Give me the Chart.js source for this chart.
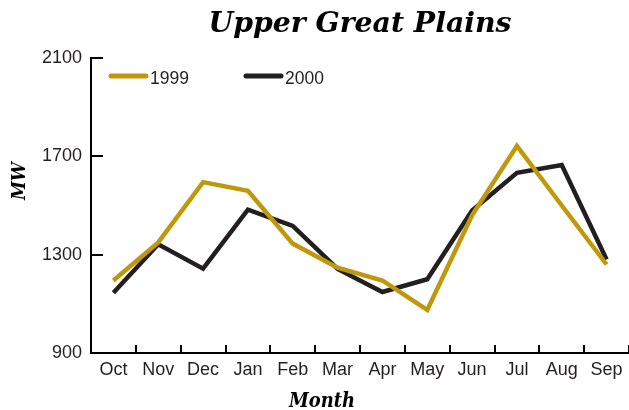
<!DOCTYPE html>
<html><head><meta charset="utf-8">
<script src="https://cdn.jsdelivr.net/npm/chart.js@4/dist/chart.umd.min.js"></script>
<style>html,body{margin:0;padding:0;background:#fff}#wrap{width:629px;height:410px;position:relative}</style>
</head><body><div id="wrap"><canvas id="c" width="629" height="410"></canvas></div>
<script>
const months = ['Oct','Nov','Dec','Jan','Feb','Mar','Apr','May','Jun','Jul','Aug','Sep'];
const series1999 = [1195,1350,1595,1560,1345,1247,1195,1075,1460,1742,1500,1260];
const series2000 = [1145,1342,1243,1483,1417,1242,1148,1200,1480,1633,1665,1280];
const yTicks = [900,1300,1700,2100];
const seriesNames = ['1999','2000'];
const chartTitle = 'Upper Great Plains';
const xTitle = 'Month';
const yTitle = 'MW';

const GOLD = '#c0980c';
const DARK = '#231f20';
const SANS = '"Liberation Sans", Arial, Helvetica, sans-serif';
const SERIF = '"DejaVu Serif", "Liberation Serif", serif';

// draw text centered at (cx, baseline), with given font size and fitted width
function fitText(ctx, text, cx, by, size, width) {
  ctx.save();
  ctx.font = 'italic bold ' + size + 'px ' + SERIF;
  const w = ctx.measureText(text).width;
  ctx.translate(cx, by);
  ctx.scale(width / w, 1);
  ctx.textAlign = 'center';
  ctx.textBaseline = 'alphabetic';
  ctx.fillText(text, 0, 0);
  ctx.restore();
}

const decor = {
  id: 'decor',
  afterDraw(chart) {
    const ctx = chart.ctx;
    const area = chart.chartArea;
    const xs = chart.scales.x, ys = chart.scales.y;
    ctx.save();
    ctx.strokeStyle = '#000';
    ctx.lineWidth = 2;
    yTicks.forEach(v => {
      const y = Math.round(ys.getPixelForValue(v));
      ctx.beginPath();
      ctx.moveTo(area.left, y);
      ctx.lineTo(area.left + 12, y);
      ctx.stroke();
    });
    for (let i = 1; i <= months.length; i++) {
      let x;
      if (i < months.length) x = (xs.getPixelForValue(i - 1) + xs.getPixelForValue(i)) / 2;
      else x = xs.getPixelForValue(i - 1) + (xs.getPixelForValue(1) - xs.getPixelForValue(0)) / 2;
      x = Math.round(x);
      ctx.beginPath();
      ctx.moveTo(x, area.bottom);
      ctx.lineTo(x, area.bottom - 8);
      ctx.stroke();
    }
    ctx.fillStyle = '#000';
    fitText(ctx, chartTitle, (area.left + area.right) / 2, 31.5, 27.5, 303);
    fitText(ctx, xTitle, 322, 407, 19.5, 66);
    ctx.save();
    ctx.translate(25, 181);
    ctx.rotate(-Math.PI / 2);
    fitText(ctx, yTitle, 0, 0, 19, 38);
    ctx.restore();
    const legendX = [109, 244];
    chart.data.datasets.forEach((ds, i) => {
      ctx.strokeStyle = ds.borderColor;
      ctx.lineWidth = 5;
      ctx.lineCap = 'round';
      ctx.beginPath();
      ctx.moveTo(legendX[i] + 2, 76);
      ctx.lineTo(legendX[i] + 37, 76);
      ctx.stroke();
      ctx.fillStyle = DARK;
      ctx.font = '17.5px ' + SANS;
      ctx.textAlign = 'left';
      ctx.textBaseline = 'alphabetic';
      ctx.fillText(ds.label, legendX[i] + 41, 84);
    });
    ctx.restore();
  }
};

new Chart(document.getElementById('c'), {
  type: 'line',
  data: {
    labels: months,
    datasets: [
      { label: seriesNames[0], data: series1999, borderColor: GOLD, backgroundColor: GOLD },
      { label: seriesNames[1], data: series2000, borderColor: DARK, backgroundColor: DARK }
    ]
  },
  options: {
    responsive: false,
    animation: false,
    devicePixelRatio: 1,
    layout: { padding: { top: 58, left: 0, right: 0, bottom: 0 } },
    elements: {
      line: { borderWidth: 4.5, tension: 0, borderJoinStyle: 'miter', borderCapStyle: 'butt' },
      point: { radius: 0, hoverRadius: 0 }
    },
    plugins: { legend: { display: false }, title: { display: false }, tooltip: { enabled: false } },
    scales: {
      x: {
        type: 'category',
        offset: true,
        grid: { display: false, drawTicks: false },
        border: { display: true, color: '#000', width: 2 },
        ticks: { color: DARK, font: { family: SANS, size: 18 }, padding: 6, maxRotation: 0, autoSkip: false },
        afterFit(s) { s.height = 57; }
      },
      y: {
        min: 900, max: 2100,
        grid: { display: false, drawTicks: false },
        border: { display: true, color: '#000', width: 2 },
        afterBuildTicks(s) { s.ticks = yTicks.map(v => ({ value: v })); },
        ticks: { color: DARK, font: { family: SANS, size: 18 }, padding: 9, callback: v => String(v) },
        afterFit(s) { s.width = 91; }
      }
    }
  },
  plugins: [decor]
});
</script>
</body></html>
